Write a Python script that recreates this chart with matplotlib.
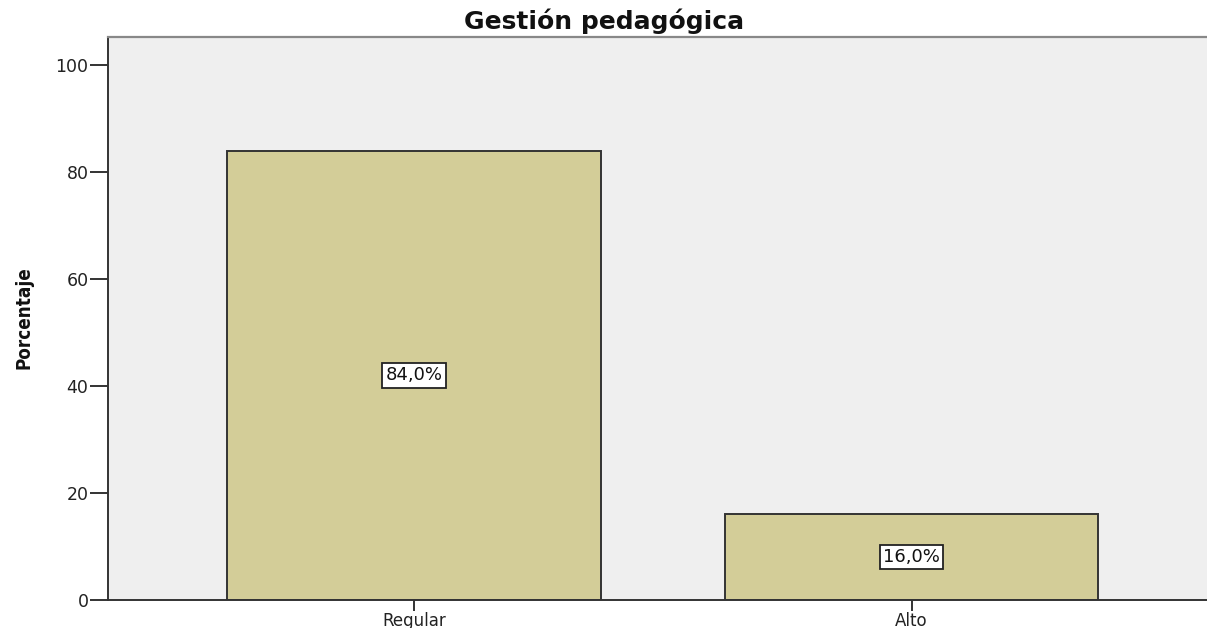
import matplotlib
matplotlib.use("Agg")
import matplotlib.pyplot as plt
from matplotlib import font_manager

categories = ["Regular", "Alto"]
values = [84.0, 16.0]
labels = ["84,0%", "16,0%"]
yticks = [0, 20, 40, 60, 80, 100]

W, H = 1207, 628
fig = plt.figure(figsize=(W / 100, H / 100), dpi=100)
ax = fig.add_axes([108 / W, 1 - 600 / H, (1230 - 108) / W, (600 - 37) / H])
ax.set_facecolor("#efefef")

FONT = "DejaVu Sans"

x = list(range(len(categories)))
ax.bar(x, values, width=0.75, color="#d3cd98", edgecolor="#333333", linewidth=1.4, zorder=2)
for xi, v, lab in zip(x, values, labels):
    ax.text(xi, v / 2, lab, ha="center", va="center", fontsize=13, family=FONT,
            color="#111111", zorder=3,
            bbox=dict(boxstyle="square,pad=0.17", facecolor="white", edgecolor="#222222", linewidth=1.3))

ax.set_xlim(-0.615, 1.64)
ax.set_ylim(0, 105.3)
ax.set_yticks(yticks)
ax.set_yticklabels([str(t) for t in yticks], fontsize=12.5, family=FONT, color="#222222")
ax.set_xticks(x)
ax.set_xticklabels(categories, fontsize=12, family=FONT, color="#222222")
ax.tick_params(axis="y", direction="out", length=13, width=1.4, color="#333333", pad=1)
ax.tick_params(axis="x", direction="out", length=8, width=1.4, color="#333333", pad=0.5)

for s in ["left", "bottom"]:
    ax.spines[s].set_color("#333333")
    ax.spines[s].set_linewidth(1.4)
ax.spines["top"].set_color("#888888")
ax.spines["top"].set_linewidth(1.6)
ax.spines["right"].set_visible(False)

# pick a condensed bold family for the y label if one is installed
def _is_bold(w):
    if isinstance(w, (int, float)):
        return w >= 600
    return str(w).lower() in ("bold", "semibold", "demibold", "heavy", "extra bold", "black", "demi")

narrow = None
for f in font_manager.fontManager.ttflist:
    cond = ("Narrow" in f.name or "Condensed" in f.name
            or str(f.stretch).lower() in ("condensed", "semi-condensed", "extra-condensed"))
    if cond and _is_bold(f.weight):
        narrow = f.fname
        break

if narrow is not None:
    fp = font_manager.FontProperties(fname=narrow, size=14)
else:
    fp = font_manager.FontProperties(family="Liberation Sans", weight="bold", size=14)

ylab = fig.text(24 / W, 1 - 318 / H, "Porcentaje", rotation=90, ha="center", va="center",
                fontproperties=fp, color="#111111")
fig.canvas.draw()
ext = ylab.get_window_extent()
ylab.set_fontsize(14 * 103.0 / ext.height)

fig.text(604 / W, 1 - 29 / H, "Gestión pedagógica", ha="center", va="baseline",
         fontsize=18, fontweight="bold", family=FONT, color="#111111")

fig.savefig("out.png", dpi=100, facecolor="white")
